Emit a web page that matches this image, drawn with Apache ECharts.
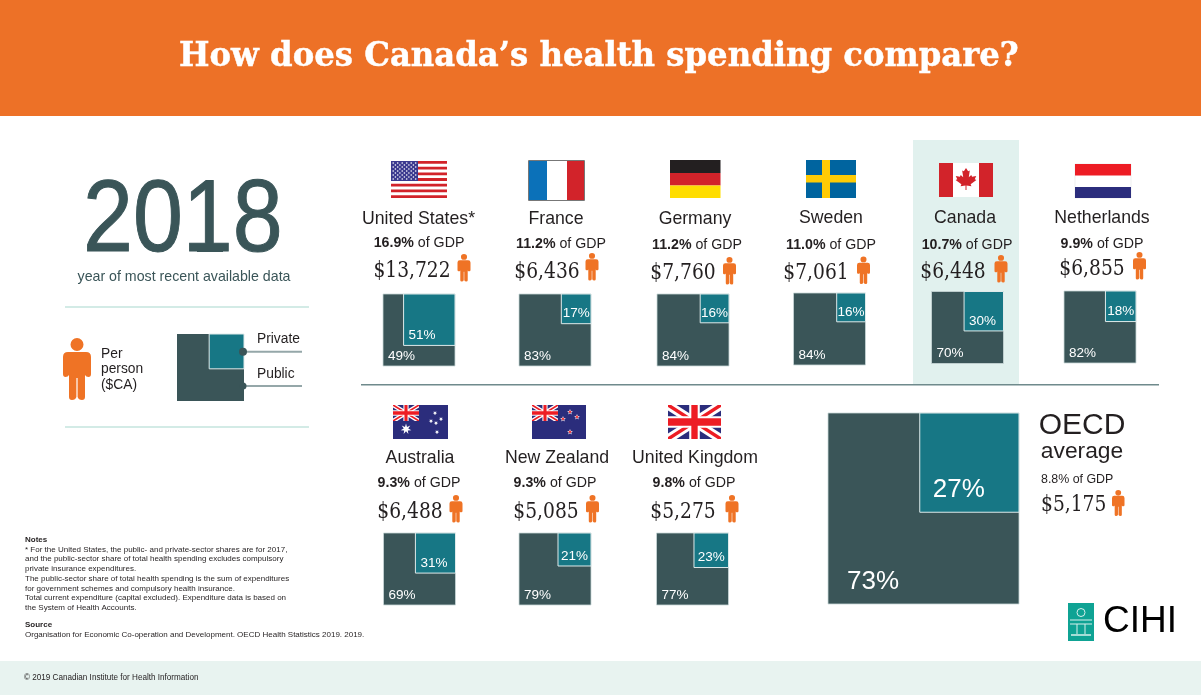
<!DOCTYPE html>
<html><head><meta charset="utf-8">
<style>html,body{margin:0;padding:0;background:#fff}#c{width:1201px;height:696px}</style>
<script src="https://cdn.jsdelivr.net/npm/echarts@6/dist/echarts.min.js"></script>
</head><body><div id="c"></div>
<script>
// ---------- data ----------
const countries = ['United States*','France','Germany','Sweden','Canada','Netherlands','Australia','New Zealand','United Kingdom','OECD average'];
const gdpShare  = ['16.9%','11.2%','11.2%','11.0%','10.7%','9.9%','9.3%','9.3%','9.8%','8.8%'];
const perPerson = ['$13,722','$6,436','$7,760','$7,061','$6,448','$6,855','$6,488','$5,085','$5,275','$5,175'];
const privateShare = [51,17,16,16,30,18,31,21,23,27];
const publicShare  = [49,83,84,84,70,82,69,79,77,73];
const legendKey = [27,73];
const year = '2018';
const titleText = 'How does Canada\u2019s health spending compare?';
const notes = ['* For the United States, the public- and private-sector shares are for 2017,',
 'and the public-sector share of total health spending excludes compulsory',
 'private insurance expenditures.',
 'The public-sector share of total health spending is the sum of expenditures',
 'for government schemes and compulsory health insurance.',
 'Total current expenditure (capital excluded). Expenditure data is based on',
 'the System of Health Accounts.'];
const sourceText = 'Organisation for Economic Co-operation and Development. OECD Health Statistics 2019. 2019.';
const copyright = '\u00a9 2019 Canadian Institute for Health Information';

// ---------- layout & style ----------
const DARK='#3a5558', TEAL='#177785', ORANGE='#ef7325', INK='#231f20', EDGE='#c9d8d8';
const SANS='"Liberation Sans",Arial,sans-serif', SLAB='"DejaVu Serif",serif';
// square: [left, top, size]
const squares=[[383,294,72],[519,294,72],[657,294,72],[793.5,293,72],[931.5,291.5,72],[1064,291,72],[383.5,533,72],[519,533,72],[656.5,533,72],[828,413,191]];
// name[x,y] gdp[x,y] money[x,y] person[x,y]
const textPos=[
 [418.5,219,419,243,412,271,457.5,254],[556,219,561,244,547,272,585.5,253],[695,219,697,245,683,273,723,257],
 [831,218,831,245,816,273,857,256.5],[965,218,967,245,953,272,994.5,255],[1102,218,1102,244,1092,269,1133,252],
 [420,458,419,483,410,512,449.5,495],[557,458,555,483,546,512,586,495],[695,458,694,483,683,512,725.5,495]];
const g=[];
const T=(text,x,y,size,o={})=>g.push({type:'text',x,y,z:o.z||10,silent:true,scaleX:o.sx||1,originX:0,style:{text,fontSize:size,fontFamily:o.font||SANS,fontWeight:o.weight||'normal',fill:o.fill||INK,stroke:o.stroke,lineWidth:o.lw,align:o.align||'center',verticalAlign:'middle',rich:o.rich}});
const R=(x,y,w,h,fill,o={})=>g.push({type:'rect',silent:true,z:o.z===undefined?5:o.z,shape:{x,y,width:w,height:h},style:{fill,stroke:o.stroke,lineWidth:o.lw}});
const P=(pts,fill)=>g.push({type:'polygon',silent:true,z:6,shape:{points:pts},style:{fill}});
const C=(cx,cy,r,fill,z=6)=>g.push({type:'circle',silent:true,z,shape:{cx,cy,r},style:{fill}});
const L=(x1,y1,x2,y2,color,w)=>g.push({type:'line',silent:true,z:6,shape:{x1,y1,x2,y2},style:{stroke:color,lineWidth:w}});
const personPath='M14 0A6.5 6.5 0 1 1 14 13A6.5 6.5 0 1 1 14 0ZM5 14H23Q28 14 28 19V36Q28 39 25.5 39Q23 39 22 37V59Q22 62 19 62Q15.5 62 14.6 59V40H13.4V59Q12.5 62 9 62Q6 62 6 59V37Q5 39 2.5 39Q0 39 0 36V19Q0 14 5 14Z';
const persons=[];
const person=(x,y,w,h)=>persons.push([x,y,w,h]);
const star=(cx,cy,r,fill,n=5,inner=.42)=>{const p=[];for(let i=0;i<n*2;i++){const a=-Math.PI/2+i*Math.PI/n,q=i%2?r*inner:r;p.push([cx+q*Math.cos(a),cy+q*Math.sin(a)]);}P(p,fill);};
const BLUE='#2b2d7c',RED='#ed1c24';
function jack(x,y,w,h){
 const diag=(t,c)=>{P([[x,y],[x+t*w,y],[x+w,y+h-t*h],[x+w,y+h],[x+w-t*w,y+h],[x,y+t*h]],c);
  P([[x+w,y],[x+w,y+t*h],[x+t*w,y+h],[x,y+h],[x,y+h-t*h],[x+w-t*w,y]],c);};
 R(x,y,w,h,BLUE,{z:6});diag(.16,'#fff');diag(.06,RED);
 R(x+w*.4,y,w*.2,h,'#fff',{z:6});R(x,y+h*.33,w,h*.34,'#fff',{z:6});
 R(x+w*.44,y,w*.12,h,RED,{z:6});R(x,y+h*.39,w,h*.22,RED,{z:6});
}
// page furniture
R(0,0,1201,116,'#ed7127',{z:0});
R(0,661,1201,34,'#e8f3f0',{z:0});
R(913,140,106,244,'#e1f1ee',{z:-1});
L(361,384.8,1159,384.8,'#6f8a8c',1.5);
L(65,307,309,307,'#d3ebe6',2);L(65,427,309,427,'#d3ebe6',2);
T(titleText,179,57,34,{font:SLAB,weight:'bold',fill:'#fff',stroke:'#fff',lw:.5,sx:.95,align:'left'});
// year block
T(year,83,223,102,{fill:DARK,stroke:DARK,lw:1,sx:.88,align:'left'});
R(197,245,26,7,DARK,{z:11});
T('year of most recent available data',184,277,14.2,{fill:DARK});
// legend block
person(63,338,28,62);
['Per','person','($CA)'].forEach((s,i)=>T(s,101,354+i*15.5,13.8,{align:'left'}));
T('Private',257,339,13.8,{align:'left'});T('Public',257,374,13.8,{align:'left'});
L(243,351.7,302,351.7,'#95a7a9',2);L(243,386,302,386,'#95a7a9',2);
C(243,351.7,4,DARK,7);C(243,386,3.5,DARK,7);
// flags
// USA
(()=>{const x=391,y=161,w=56,h=37;R(x,y,w,h,'#fff');for(let i=0;i<13;i+=2)R(x,y+i*h/13,w,h/13,'#d2232a');
 R(x,y,27,20,'#3b3a8f');for(let r=0;r<9;r++){const n=r%2?5:6;for(let c=0;c<n;c++)C(x+2.2+(r%2?2.2:0)+c*4.5,y+2+r*2,.8,'#fff',7);}})();
R(528.5,160.5,56,40,'#fff',{stroke:'#777',lw:1,z:5});R(529,161,18,39,'#0b71b9');R(567,161,17,39,'#d2232a');
R(670,160,50.5,13,'#231f20');R(670,173,50.5,12.5,'#d2232a');R(670,185.5,50.5,12.5,'#ffdd00');
R(806,160,50,38,'#00649f');R(822,160,8,38,'#ffcb05');R(806,175,50,7.5,'#ffcb05');
R(939,163,54,34,'#fff');R(939,163,14,34,'#d2232a');R(979,163,14,34,'#d2232a');
(()=>{const h=[[0,-1],[.13,-.76],[.23,-.82],[.17,-.32],[.32,-.48],[.37,-.37],[.62,-.42],[.53,-.17],[.63,-.12],[.28,.19],[.33,.33],[.03,.28],[.03,.6]];
 const cx=966,cy=181.7,all=h.concat(h.slice().reverse().map(p=>[-p[0],p[1]]));P(all.map(p=>[cx+p[0]*16.5,cy+p[1]*13.7]),'#d2232a');})();
R(1075,164,56,34,'#fff',{stroke:'#ddd',lw:.5});R(1075,164,56,11.5,RED);R(1075,187,56,11,BLUE);
R(393,405,55,34,BLUE);jack(393,405,26,16);star(406,429,5.5,'#fff',7);[[431,421],[435,413],[441,419],[436,423],[437,432]].forEach(p=>star(p[0],p[1],2.3,'#fff',7));
R(532,405,54,34,BLUE);jack(532,405,26,16);[[570,412],[563,419],[577,417],[570,432]].forEach(p=>{star(p[0],p[1],3,'#fff');star(p[0],p[1],1.9,RED);});
jack(668,405,53,34);
// country texts
countries.slice(0,9).forEach((n,i)=>{const q=textPos[i];
 T(n,q[0],q[1],17.7);
 T('{b|'+gdpShare[i]+'} of GDP',q[2],q[3],14.2,{rich:{b:{fontWeight:'bold',fontSize:14.2,fontFamily:SANS,fill:INK}}});
 T(perPerson[i],q[4],q[5],22.5,{font:SLAB,sx:.83});
 person(q[6],q[7],13,27.5);
});
// OECD block
T('OECD',1082,426,30);T('average',1082,452,22.8);
T('{b|'+gdpShare[9]+'} of GDP',1041,480,12.4,{align:'left',rich:{b:{fontWeight:'normal',fontSize:12.4,fontFamily:SANS,fill:INK}}});
T(perPerson[9],1041,505,22.5,{font:SLAB,align:'left',sx:.83});
person(1112,490,12.5,26);
// notes
T('Notes',25,540,8,{align:'left',weight:'bold'});
notes.forEach((s,i)=>T(s,25,549.5+i*9.7,8,{align:'left'}));
T('Source',25,625,8,{align:'left',weight:'bold'});
T(sourceText,25,634.5,8,{align:'left'});
T(copyright,24,678,8.15,{align:'left'});
// logo
R(1068,603,26,38,'#0fa394');
g.push({type:'circle',silent:true,z:7,shape:{cx:1081,cy:612.5,r:4},style:{fill:'none',stroke:'#d8f0ec',lineWidth:1}});
L(1070,620,1092,620,'#d8f0ec',1);L(1070,624,1092,624,'#d8f0ec',1);L(1077,624,1077,634,'#d8f0ec',1);L(1085,624,1085,634,'#d8f0ec',1);L(1071,635,1091,635,'#d8f0ec',1.5);
T('CIHI',1103,622,37,{align:'left',fill:'#000'});

// ---------- panels ----------
const panels=squares.map((s,i)=>({s,priv:privateShare[i],pub:publicShare[i],fs:i===9?26:13.5}));
panels.push({s:[177,334,67],priv:legendKey[0],pub:legendKey[1],fs:0});
const grid=panels.map(p=>({left:p.s[0],top:p.s[1],width:p.s[2],height:p.s[2]}));
const xAxis=panels.map((p,i)=>({type:'value',gridIndex:i,min:0,max:100,show:false}));
const yAxis=panels.map((p,i)=>({type:'value',gridIndex:i,min:0,max:100,show:false}));
const render=(params,api)=>{
 const pr=api.value(0),pu=api.value(1),side=100*Math.sqrt(pr/100);
 const a=api.coord([0,100]),b=api.coord([100,0]),c=api.coord([100-side,100]),d=api.coord([100,100-side]);
 const fs=api.value(2),w=d[0]-c[0],kids=[
  {type:'rect',shape:{x:a[0],y:a[1],width:b[0]-a[0],height:b[1]-a[1]},style:{fill:DARK,stroke:fs?EDGE:null,lineWidth:.8}},
  {type:'rect',shape:{x:c[0],y:c[1],width:w,height:d[1]-c[1]},style:{fill:TEAL,stroke:'#dfeaea',lineWidth:1}}];
 if(fs){const large=fs>20,pad=large?19:5;
  kids.push({type:'text',x:large?c[0]+13:(w<34?(c[0]+d[0])/2-fs:c[0]+Math.min(5,(w-27)/2)),y:d[1]-(large?22:10),style:{text:pr+'%',fontSize:fs,fontFamily:SANS,fill:'#fff',verticalAlign:'middle'}});
  kids.push({type:'text',x:a[0]+pad,y:b[1]-(large?22:10),style:{text:pu+'%',fontSize:fs,fontFamily:SANS,fill:'#fff',verticalAlign:'middle'}});}
 return {type:'group',children:kids};
};
const series=panels.map((p,i)=>({type:'custom',xAxisIndex:i,yAxisIndex:i,clip:false,silent:true,z:3,
 data:[[p.priv,p.pub,p.fs]],encode:{x:0,y:1},renderItem:render}));
series.push({type:'custom',coordinateSystem:'none',silent:true,z:6,data:persons.map((p,i)=>[i]),
 renderItem:(params)=>{const p=persons[params.dataIndex];return {type:'path',shape:{pathData:personPath,layout:'cover',x:p[0],y:p[1],width:p[2],height:p[3]},style:{fill:ORANGE}};}});
const chart=echarts.init(document.getElementById('c'),null,{renderer:'canvas'});
chart.setOption({animation:false,backgroundColor:'#fff',tooltip:{show:false},grid,xAxis,yAxis,series,graphic:{elements:g}});
</script></body></html>
